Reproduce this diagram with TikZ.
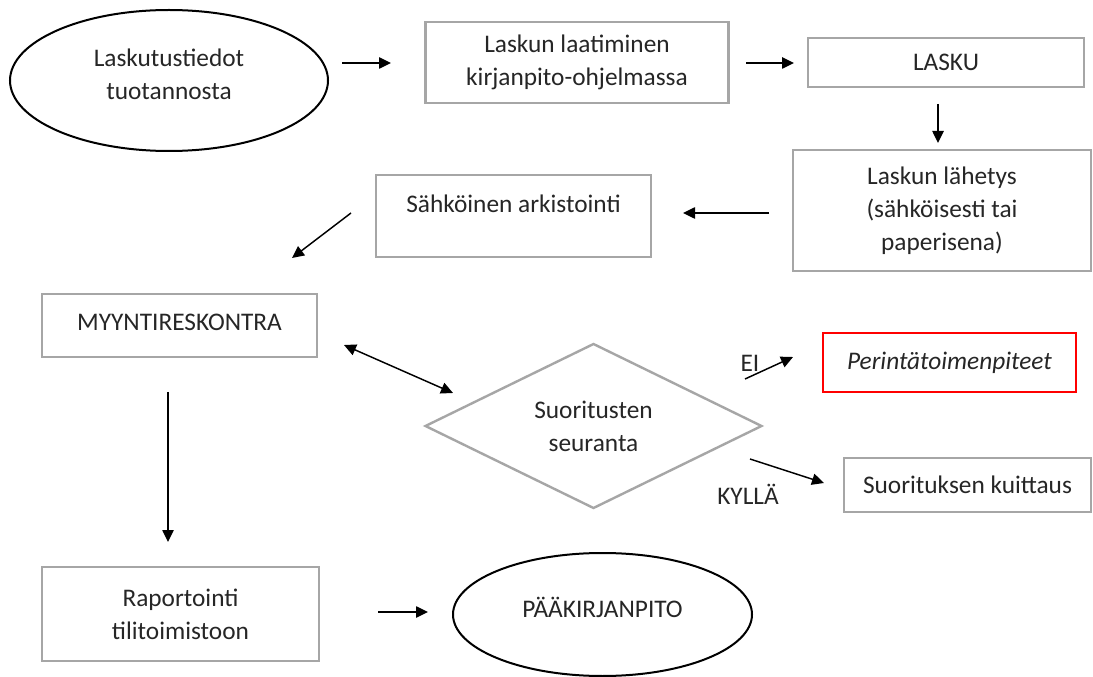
\documentclass[tikz,border=0pt]{standalone}
\usepackage{fontspec}
\setmainfont{Carlito}
\usetikzlibrary{arrows.meta,shapes.geometric}
\begin{document}
\begin{tikzpicture}[x=0.75pt,y=-0.75pt,
  every node/.style={font=\fontsize{19}{24.75}\selectfont, text=black!85, align=center, inner sep=0pt},
  graybox/.style={draw=black!35, line width=1.8pt, rectangle},
  oval/.style={draw=black, line width=1.5pt, ellipse},
  gdiamond/.style={draw=black!35, line width=1.8pt, diamond},
  redbox/.style={draw=red, line width=1.5pt, rectangle},
  flow/.style={draw=black, line width=1.1pt, -{Triangle[length=9pt,width=8.5pt]}},
  dflow/.style={draw=black, line width=1.1pt, {Triangle[length=9pt,width=8.5pt]}-{Triangle[length=9pt,width=8.5pt]}},
  lbl/.style={font=\fontsize{19}{24.75}\selectfont}
]
\useasboundingbox (0,0) rectangle (1093,677);
\fill[white] (0,0) rectangle (1093,677);

% ellipses
\node[oval, minimum width=238.5pt, minimum height=105.75pt] (e1) at (169,80.5) {};
\node (e1t) at (169,74) {Laskutustiedot\\tuotannosta};
\node[oval, minimum width=224.25pt, minimum height=92.25pt] (e2) at (602.5,614.5) {};
\node (e2t) at (602.5,607) {PÄÄKIRJANPITO};

% boxes
\node[graybox, minimum width=227pt, minimum height=60.75pt] (b1) at (577,62.5) {Laskun laatiminen\\kirjanpito-ohjelmassa};
\node[graybox, minimum width=207pt, minimum height=36.75pt] (b2) at (946,62.5) {LASKU};
\node[graybox, minimum width=223.5pt, minimum height=90.75pt] (b3) at (942,210.5) {Laskun lähetys\\(sähköisesti tai\\paperisena)};
\node[graybox, minimum width=206.25pt, minimum height=61.5pt] (b4) at (513.5,216) {};
\node (b4t) at (513.5,204) {Sähköinen arkistointi};
\node[graybox, minimum width=206.25pt, minimum height=47.25pt] (b5) at (179.5,325.5) {};
\node (b5t) at (179.5,322) {MYYNTIRESKONTRA};
\node[graybox, minimum width=207.75pt, minimum height=70.5pt] (b6) at (180.5,614) {Raportointi\\tilitoimistoon};
\node[gdiamond, minimum width=252.75pt, minimum height=123.75pt] (d) at (593.5,426) {};
\node (dt) at (593.5,426) {Suoritusten\\seuranta};
\node[redbox, minimum width=189.75pt, minimum height=44.25pt] (b7) at (949.5,362.5) {\itshape Perintätoimenpiteet};
\node[graybox, minimum width=185.25pt, minimum height=40.5pt] (b8) at (967.5,485) {Suorituksen kuittaus};

% labels
\node[lbl] (ei) at (750,363) {EI};
\node[lbl] (kylla) at (748,494) {KYLLÄ};

% arrow end points
\coordinate (a1s) at (342,63);  \coordinate (a1e) at (391,63);
\coordinate (a2s) at (746,63);  \coordinate (a2e) at (794,63);
\coordinate (a3s) at (938,104); \coordinate (a3e) at (938,143);
\coordinate (a4s) at (769,213); \coordinate (a4e) at (683,213);
\coordinate (a5s) at (351,213); \coordinate (a5e) at (292,258);
\coordinate (a6s) at (168,392); \coordinate (a6e) at (168,542);
\coordinate (a7s) at (344,345); \coordinate (a7e) at (453,393);
\coordinate (a8s) at (745,379); \coordinate (a8e) at (793,357);
\coordinate (a9s) at (750,459); \coordinate (a9e) at (824,483);
\coordinate (a10s) at (378,612); \coordinate (a10e) at (428,612);

\draw[flow] (a1s) -- (a1e);
\draw[flow] (a2s) -- (a2e);
\draw[flow] (a3s) -- (a3e);
\draw[flow] (a4s) -- (a4e);
\draw[flow] (a5s) -- (a5e);
\draw[flow] (a6s) -- (a6e);
\draw[dflow] (a7s) -- (a7e);
\draw[flow] (a8s) -- (a8e);
\draw[flow] (a9s) -- (a9e);
\draw[flow] (a10s) -- (a10e);
\end{tikzpicture}
\end{document}
